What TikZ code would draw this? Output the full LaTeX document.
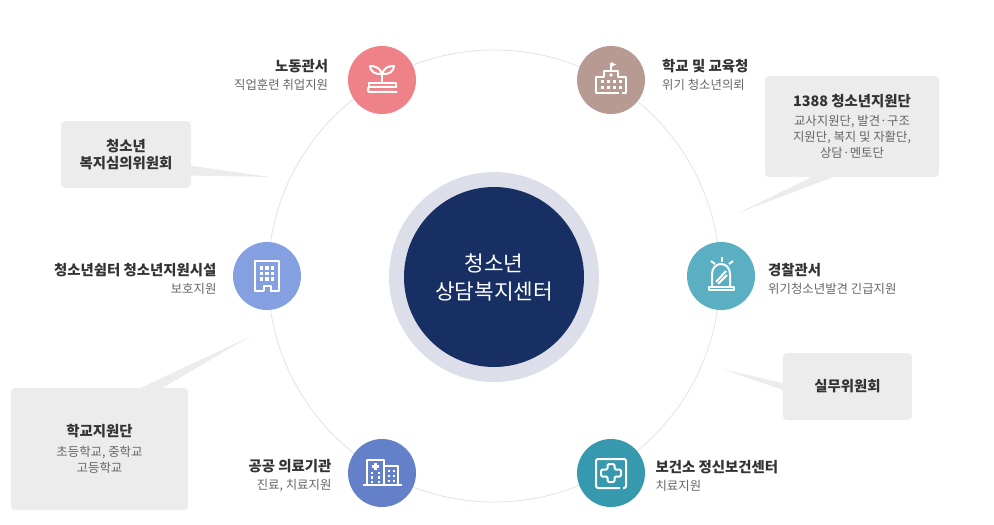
\documentclass[tikz,border=0pt]{standalone}
\usepackage{fontspec}
\setmainfont{Noto Sans CJK KR}
\usetikzlibrary{positioning, calc}
\definecolor{hubblue}{HTML}{182F63}
\definecolor{halogray}{HTML}{DCDFE9}
\definecolor{ringline}{HTML}{DCE2F2}
\definecolor{notegray}{HTML}{ECECEC}
\definecolor{titlegray}{HTML}{333333}
\definecolor{subgray}{HTML}{666666}
\definecolor{labourred}{HTML}{EE8288}
\definecolor{schoolbrown}{HTML}{B79A92}
\definecolor{policeteal}{HTML}{5AAFC3}
\definecolor{shelterblue}{HTML}{85A0E0}
\definecolor{hospitalblue}{HTML}{6480C8}
\definecolor{healthteal}{HTML}{3699AD}
\newcommand{\ttl}[1]{{\bfseries\color{titlegray}#1}}
\newcommand{\subt}[1]{{\fontsize{9.3}{11.6}\selectfont\color{subgray}#1}}

\begin{document}
\begin{tikzpicture}[
        x=0.75pt, y=-0.75pt,
        node distance=15pt,
        halo/.style={circle, fill=halogray, minimum size=157.5pt, inner sep=0pt},
        hub/.style={circle, fill=hubblue, text=white, minimum size=135pt, inner sep=0pt, align=center, font=\fontsize{16}{21}\selectfont},
        spot/.style={circle, minimum size=51pt, inner sep=0pt},
        lblleft/.style={align=right, inner sep=0pt, font=\fontsize{10.8}{13.5}\selectfont},
        lblright/.style={align=left, inner sep=0pt, font=\fontsize{10.8}{13.5}\selectfont},
        note/.style={fill=notegray, rounded corners=3pt, align=center, inner sep=0pt, font=\fontsize{10.8}{12}\selectfont},
        tail/.style={fill=notegray},
        icon/.style={draw=white, line width=1.5pt, line join=round},
        dots/.style={fill=white}
    ]
    \useasboundingbox (0,0) rectangle (994,524);

    \draw[ringline, line width=0.6pt] (494,276) circle (226);
    \node[halo] (Halo) at (494,277) {};
    \node[hub] (Hub) at (Halo) {청소년\\상담복지센터};

    \node[spot, fill=labourred] (Labour) at (382,80) {};
    \node[spot, fill=schoolbrown] (School) at (611,80) {};
    \node[spot, fill=policeteal] (Police) at (721,276) {};
    \node[spot, fill=shelterblue] (Shelter) at (267,276) {};
    \node[spot, fill=hospitalblue] (Hospital) at (382,473) {};
    \node[spot, fill=healthteal] (Health) at (611,473) {};

    \node[lblleft, left=14.5pt of Labour, yshift=3.75pt] (LabourTxt) {\ttl{노동관서}\\\subt{직업훈련 취업지원}};
    \node[lblright, right=12.5pt of School, yshift=3.75pt] (SchoolTxt) {\ttl{학교 및 교육청}\\\subt{위기 청소년의뢰}};
    \node[lblright, right=9.5pt of Police, yshift=-2.25pt] (PoliceTxt) {\ttl{경찰관서}\\\subt{위기청소년발견 긴급지원}};
    \node[lblleft, left=12pt of Shelter, yshift=-2.25pt] (ShelterTxt) {\ttl{청소년쉼터 청소년지원시설}\\\subt{보호지원}};
    \node[lblleft, left=12pt of Hospital, yshift=-2.25pt] (HospitalTxt) {\ttl{공공 의료기관}\\\subt{진료, 치료지원}};
    \node[lblright, right=7.5pt of Health, yshift=-2.25pt] (HealthTxt) {\ttl{보건소 정신보건센터}\\\subt{치료지원}};

    \node[note, minimum width=97.5pt, minimum height=50pt] (NoteWelfare) at (126,154.5) {\ttl{청소년}\\[.6pt]\ttl{복지심의위원회}};
    \node[note, minimum width=130.5pt, minimum height=76pt] (NoteSupport) at (852,126.5) {\ttl{1388 청소년지원단}\\[2.5pt]\subt{교사지원단, 발견·구조}\\\subt{지원단, 복지 및 자활단,}\\\subt{상담·멘토단}};
    \node[note, minimum width=97pt, minimum height=50pt] (NoteWork) at (847.5,386.5) {\ttl{실무위원회}};
    \node[note, minimum width=133pt, minimum height=91.5pt] (NoteCampus) at (99.5,449) {\ttl{학교지원단}\\[2.5pt]\subt{초등학교, 중학교}\\\subt{고등학교}};

    \coordinate (TipWelfare) at (270,177);
    \coordinate (TipSupport) at (738,213);
    \coordinate (TipWork) at (722,369);
    \coordinate (TipCampus) at (251,336);
    \fill[tail] ($(NoteWelfare.east)+(-2,11)$) -- (TipWelfare) -- ($(NoteWelfare.east)+(-2,21)$) -- cycle;
    \fill[tail] ($(NoteSupport.south)+(-39,-1)$) -- (TipSupport) -- ($(NoteSupport.south)+(-17,-1)$) -- cycle;
    \fill[tail] ($(NoteWork.west)+(2,-3)$) -- (TipWork) -- ($(NoteWork.west)+(2,4)$) -- cycle;
    \fill[tail] ($(NoteCampus.north)+(39.5,1)$) -- (TipCampus) -- ($(NoteCampus.north)+(61.5,1)$) -- cycle;

    % sprout on books
    \begin{scope}[shift={(Labour.center)}, icon]
        \draw (-13,7) -- (-13,3) -- (14,3) -- (14,7);
        \draw[rounded corners=1pt] (15,12) -- (-14,12) -- (-14,7) -- (15,7);
        \draw (0,3) -- (0,-8);
        \draw (0,-6) .. controls (-2,-12) and (-6,-14) .. (-12,-14) .. controls (-12,-9) and (-7,-5) .. (0,-6);
        \draw (0,-6) .. controls (2,-12) and (6,-14) .. (12,-14) .. controls (12,-9) and (7,-5) .. (0,-6);
    \end{scope}
    % school
    \begin{scope}[shift={(School.center)}, icon]
        \draw (11,13) -- (15,13) -- (15,-3) -- (7,-3) -- (7,-9) -- (-7,-9) -- (-7,-3) -- (-15,-3) -- (-15,13) -- (8,13);
        \draw[line width=1pt] (0,-9) -- (0,-17);
        \fill[dots, draw=none] (0,-18) -- (5,-15.5) -- (0,-13) -- cycle;
        \fill[dots, draw=none] (0,-5) circle (1.8);
        \foreach \wx in {-9,-3,3,9}
            \foreach \wy in {2,8}
                \fill[dots, draw=none] (\wx-1.5,\wy-1.5) rectangle (\wx+1.5,\wy+1.5);
    \end{scope}
    % siren
    \begin{scope}[shift={(Police.center)}, icon]
        \draw (-9,11) -- (-9,-2) .. controls (-9,-8) and (-5,-12) .. (0,-12) .. controls (5,-12) and (9,-8) .. (9,-2) -- (9,11);
        \draw (-12,11) rectangle (13,14);
        \draw (-5,6) -- (5,-5);
        \draw (-3,8) -- (6,-1);
        \draw (1,-19) -- (1,-14);
        \draw (-10,-15) -- (-6,-12);
        \draw (12,-15) -- (8,-12);
    \end{scope}
    % tower block
    \begin{scope}[shift={(Shelter.center)}, icon]
        \draw (-3,15) -- (-12,15) -- (-12,-15) -- (12,-15) -- (12,15) -- (3,15);
        \draw (-3.5,15) -- (-3.5,10) -- (3.5,10) -- (3.5,15);
        \foreach \wx in {-5.5,0,5.5}
            \foreach \wy in {-8,-2.5,3}
                \fill[dots, draw=none] (\wx-1.7,\wy-1.7) rectangle (\wx+1.7,\wy+1.7);
    \end{scope}
    % hospital
    \begin{scope}[shift={(Hospital.center)}, icon]
        \draw (-19,12) -- (20,12);
        \draw (-15,12) -- (-15,-13) -- (2,-13) -- (2,12);
        \draw (2,-7) -- (16,-7) -- (16,12);
        \fill[dots, draw=none] (-8,-10) rectangle (-5,-3);
        \fill[dots, draw=none] (-10,-8) rectangle (-3,-5);
        \foreach \wx in {-10,-3}
            \foreach \wy in {0,4.5,9}
                \fill[dots, draw=none] (\wx-1.4,\wy-1.4) rectangle (\wx+1.4,\wy+1.4);
        \foreach \wx in {7,12}
            \foreach \wy in {-2,3,8}
                \fill[dots, draw=none] (\wx-1.4,\wy-1.4) rectangle (\wx+1.4,\wy+1.4);
    \end{scope}
    % first aid frame
    \begin{scope}[shift={(Health.center)}, icon]
        \draw[rounded corners=1.5pt] (9,15) -- (-15,15) -- (-15,-14) -- (15,-14) -- (15,15) -- (12,15);
        \draw[rounded corners=1pt] (-3.5,-9) -- (3.5,-9) -- (3.5,-3.5) -- (10,-3.5) -- (10,3.5) -- (3.5,3.5) -- (3.5,9) -- (-3.5,9) -- (-3.5,3.5) -- (-10,3.5) -- (-10,-3.5) -- (-3.5,-3.5) -- cycle;
    \end{scope}

\end{tikzpicture}
\end{document}
